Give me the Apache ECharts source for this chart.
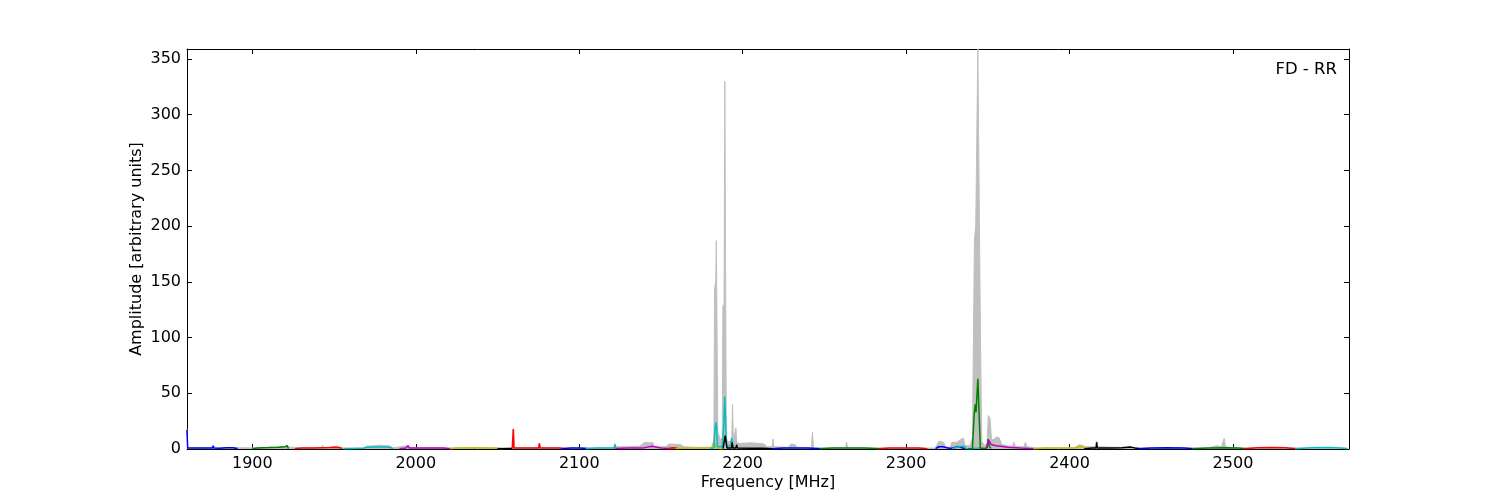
<!DOCTYPE html>
<html>
<head>
<meta charset="utf-8">
<script src="https://cdn.jsdelivr.net/npm/echarts@6/dist/echarts.min.js"></script>
<style>html,body{margin:0;padding:0;background:#fff}#c{width:1500px;height:500px}</style>
</head>
<body>
<div id="c"></div>
<script>
// ---- data (frequency MHz, amplitude) ----
const xTicks = [1900, 2000, 2100, 2200, 2300, 2400, 2500];
const yTicks = [0, 50, 100, 150, 200, 250, 300, 350];

const greyEnvelope = [[1860,18],[1860.4,1],[1890,1],[1893,1.2],[1900,1],[1921,2],[1921.5,3.5],[1922,1],[1930,1],[1942.5,1],[1943,3.5],[1943.5,1],[1952,2.5],[1955,1],[1968,1],[1970,2.5],[1975,3],[1978,3.5],[1980,3.2],[1984,2.8],[1986,1],[1995,3],[1996,1],[2020,1],[2053,1],[2059.3,1],[2059.6,18],[2060,1],[2075.3,1],[2075.6,5.5],[2076,1],[2121,1],[2121.8,5],[2122.3,2],[2130,2],[2137,2.5],[2140,6],[2143,5.5],[2145,6],[2146,2],[2153,2],[2155,4.5],[2162,4],[2164,2],[2170,1.5],[2181,1.5],[2182.4,8],[2182.8,144],[2183.5,150],[2183.9,187],[2184.4,187],[2184.8,15],[2185.5,12],[2186.5,8],[2187.5,10],[2187.9,128],[2188.6,130],[2189.1,330],[2189.6,330],[2190,10],[2191,6],[2193.3,8],[2193.8,40],[2194.3,8],[2195.5,8],[2195.9,19],[2196.3,6],[2198,5],[2205,5.5],[2210,5],[2213,4.5],[2215,2],[2218,2],[2218.5,9],[2219,2],[2228,1.5],[2229.5,4.5],[2232,4],[2233,1.5],[2242,1],[2242.7,15],[2243.3,1],[2263,1],[2263.6,6],[2264.2,1],[2300,0.8],[2318,0.8],[2320,7],[2323,6],[2324,1.5],[2327,1.5],[2328,6],[2331,6],[2333,8],[2335,10],[2336,3],[2339,3],[2340.6,10],[2341.8,188],[2342.6,200],[2343.9,359],[2344.5,359],[2345.5,100],[2346.3,7],[2348,3],[2349.5,5],[2350.3,30],[2351.3,28],[2352.3,8],[2354,9],[2355.5,11],[2357,10],[2358.5,4],[2362,3],[2365,2],[2366,6],[2367,2],[2372,2],[2373,6],[2374,2],[2380,1],[2403,1],[2406,4],[2410,2],[2416,2],[2416.6,7],[2417,2],[2430,1.5],[2440,1],[2485,1],[2490,3],[2493,2],[2494.6,9.5],[2495.4,2],[2500,1],[2570,0.8]];

const blue1 = [[1860,17],[1860.4,1],[1865,0.8],[1870,0.8],[1875.5,0.9],[1876,3],[1876.5,0.9],[1880,0.6],[1884,1.1],[1888,1.2],[1891,0.5]];
const green1 = [[1900,0.3],[1903,1],[1910,1.3],[1916,1.6],[1920,2],[1921.3,3],[1922,0.5]];
const red1 = [[1926,0.3],[1930,0.8],[1937,1],[1943,1.2],[1948,1.3],[1951,1.5],[1952,2.5],[1953.5,1.2],[1955,0.3]];
const cyan1 = [[1956,0.3],[1962,0.4],[1968,0.6],[1970,1.5],[1975,1.8],[1980,1.9],[1984,1.6],[1986,0.3]];
const magenta1 = [[1990,0.3],[1994,0.8],[1995.3,3],[1996,1],[2000,0.9],[2010,0.9],[2017,0.8],[2021,0.3]];
const yellow1 = [[2021,0.3],[2025,0.9],[2035,1.1],[2045,1],[2050,0.7],[2053,0.3]];
const black1 = [[2050,0.2],[2053,0.3],[2059,0.5]];
const red2 = [[2059,0.5],[2059.4,0.5],[2059.7,18],[2060.1,0.8],[2066,1],[2075.2,1],[2075.6,5],[2076.1,1],[2082,1],[2088,0.8],[2091,0.3]];
const blue2 = [[2089,0.3],[2095,0.8],[2100,0.9],[2105,0.4]];
const cyan2 = [[2104,0.3],[2110,0.8],[2118,0.9],[2121.5,1],[2121.9,4],[2122.4,0.8]];
const magenta2 = [[2122,0.5],[2130,0.8],[2137,0.9],[2139.5,1],[2140,2.5],[2144.5,2.5],[2145,1],[2150,0.8],[2156,0.3]];
const red3 = [[2154,0.3],[2157,1.2],[2160,1]];
const yellow2 = [[2159,0.5],[2165,1],[2172,1],[2178,1],[2182,1.5],[2182.7,6],[2183.3,2],[2185,0.5],[2188,0.3]];
const cyan3 = [[2180,0.3],[2182.4,1],[2182.9,15],[2183.5,24],[2184,20],[2184.6,2],[2187.5,2],[2188.4,20],[2189,47],[2189.6,47],[2190.1,3],[2192.8,3],[2193.3,10],[2193.8,3],[2195,0.5]];
const black2 = [[2188,0.3],[2189,0.5],[2189.3,12],[2189.9,6],[2190.4,1],[2193.2,1],[2193.6,6],[2194,1],[2196,1],[2196.3,4],[2196.7,1],[2205,0.6],[2212,0.6],[2219,0.3]];
const blue3 = [[2218,0.3],[2225,0.9],[2233,1],[2240,1],[2248,0.3]];
const green2 = [[2247,0.3],[2255,0.8],[2265,1],[2275,0.9],[2284,0.3]];
const red4 = [[2283,0.3],[2290,0.9],[2300,1],[2308,0.8],[2313,0.3]];
const blue4 = [[2318,0.3],[2320,2],[2322.5,2],[2323.5,0.5],[2327,0.5],[2328,2],[2332,2.2],[2333,0.5],[2336,0.3]];
const cyan4 = [[2328,0.3],[2332,2],[2335.5,2.5],[2336.5,0.5],[2339,0.3],[2340,1],[2345,1],[2346,0.3]];
const green3 = [[2338,0.3],[2340.6,0.5],[2341.6,30],[2342.3,40],[2342.8,33],[2343.9,63],[2345.4,1],[2348,0.5],[2349.6,1],[2350.2,9],[2351,2],[2352,0.5]];
const magenta3 = [[2349,0.5],[2350.2,1],[2350.6,8],[2352,4],[2355,3],[2358,2.5],[2362,1.5],[2370,0.8],[2378,0.3]];
const yellow3 = [[2378,0.3],[2385,0.8],[2395,1],[2403,1],[2406,2],[2408,2],[2410,0.3]];
const black3 = [[2409,0.3],[2414,0.8],[2416.3,1],[2416.6,6],[2417,1],[2425,0.9],[2432,1.2],[2437,1.8],[2440,1],[2443,0.3]];
const blue5 = [[2442,0.3],[2450,1],[2460,1.2],[2470,1],[2476,0.3]];
const green4 = [[2475,0.3],[2485,1],[2495,1.2],[2503,1],[2508,0.3]];
const red5 = [[2507,0.3],[2515,1.2],[2523,1.4],[2532,1.1],[2539,0.3]];
const cyan5 = [[2538,0.3],[2548,1.2],[2558,1.3],[2566,1],[2570,0.3]];

const C = {b:'#0000ff', g:'#008000', r:'#ff0000', c:'#00bfbf', m:'#bf00bf', y:'#bfbf00', k:'#000000'};
const bands = [
  [blue1,C.b],[green1,C.g],[red1,C.r],[cyan1,C.c],[magenta1,C.m],[yellow1,C.y],[black1,C.k],
  [red2,C.r],[blue2,C.b],[cyan2,C.c],[magenta2,C.m],[red3,C.r],[yellow2,C.y],[cyan3,C.c],[black2,C.k],
  [blue3,C.b],[green2,C.g],[red4,C.r],[blue4,C.b],[cyan4,C.c],[green3,C.g],[magenta3,C.m],
  [yellow3,C.y],[black3,C.k],[blue5,C.b],[green4,C.g],[red5,C.r],[cyan5,C.c]
];

const FONT = 'DejaVu Sans';
const chart = echarts.init(document.getElementById('c'), null, {renderer:'canvas'});

const series = [{
  type:'line', data: greyEnvelope, showSymbol:false, symbol:'none', animation:false,
  lineStyle:{color:'#bfbfbf', width:1}, areaStyle:{color:'#bfbfbf', opacity:1}, z:1
}];
bands.forEach(([d,col]) => series.push({
  type:'line', data:d, showSymbol:false, symbol:'none', animation:false,
  lineStyle:{color:col, width:1.5}, z:2
}));

const plain = v => String(v);
const xBase = {type:'value', min:1860, max:2571, splitLine:{show:false},
  axisLine:{show:true, onZero:false, lineStyle:{color:'#000', width:1}}};
const yBase = {type:'value', min:0, max:359, splitLine:{show:false},
  axisLine:{show:true, onZero:false, lineStyle:{color:'#000', width:1}}};

chart.setOption({
  animation:false,
  backgroundColor:'#fff',
  grid:{left:187, right:151, top:49, bottom:51},
  xAxis:[
    Object.assign({}, xBase, {position:'bottom', name:'Frequency [MHz]', nameLocation:'middle', nameGap:26,
      nameMoveOverlap:false,
      nameTextStyle:{fontFamily:FONT, fontSize:16, color:'#000'},
      axisTick:{show:true, inside:true, length:5, customValues:xTicks, lineStyle:{color:'#000'}},
      axisLabel:{show:true, customValues:xTicks, formatter:plain, margin:7, fontFamily:FONT, fontSize:16, color:'#000'}}),
    Object.assign({}, xBase, {position:'top',
      axisTick:{show:true, inside:true, length:5, customValues:xTicks, lineStyle:{color:'#000'}},
      axisLabel:{show:false}})
  ],
  yAxis:[
    Object.assign({}, yBase, {position:'left', name:'Amplitude [arbitrary units]', nameLocation:'middle', nameGap:42,
      nameMoveOverlap:false,
      nameTextStyle:{fontFamily:FONT, fontSize:16, color:'#000'},
      axisTick:{show:true, inside:true, length:5, customValues:yTicks, lineStyle:{color:'#000'}},
      axisLabel:{show:true, customValues:yTicks, formatter:plain, margin:6, fontFamily:FONT, fontSize:16, color:'#000'}}),
    Object.assign({}, yBase, {position:'right',
      axisTick:{show:true, inside:true, length:5, customValues:yTicks, lineStyle:{color:'#000'}},
      axisLabel:{show:false}})
  ],
  graphic:[{type:'text', x:1337, y:70, z:10,
    style:{text:'FD - RR', fontFamily:FONT, fontSize:16.5, fill:'#000', align:'right', verticalAlign:'middle'}}],
  series: series
});
</script>
</body>
</html>
